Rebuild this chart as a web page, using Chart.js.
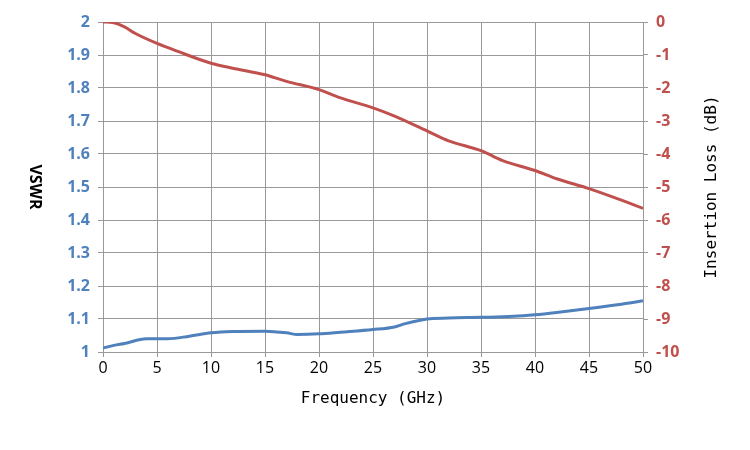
<!DOCTYPE html><html><head><script src="https://cdn.jsdelivr.net/npm/chart.js@4"></script>
<style>body{margin:0;background:#fff}#w{width:750px;height:450px}</style></head><body><div id="w"><canvas id="c"></canvas></div>
<script>
const vswrX=[0,1,2,4,6,8,10,12,15,17,18,20,22,25,27,28,30,32,35,38,40,42,45,48,50];
const vswrY=[1.012,1.02,1.026,1.04,1.04,1.048,1.058,1.062,1.063,1.058,1.053,1.055,1.06,1.068,1.076,1.086,1.1,1.103,1.105,1.108,1.113,1.12,1.132,1.145,1.155];
const ilX=[0,1,2,3,5,7,10,12,15,17,20,22,25,27,30,32,35,37,40,42,45,48,50];
const ilY=[0,-0.02,-0.15,-0.35,-0.65,-0.9,-1.25,-1.4,-1.6,-1.8,-2.05,-2.3,-2.6,-2.85,-3.3,-3.6,-3.9,-4.2,-4.5,-4.75,-5.05,-5.4,-5.65];
const xTicks=[0,5,10,15,20,25,30,35,40,45,50];
const blue='#4F81BD',red='#C0504D';
const vt={id:'vt',afterDraw(ch){const c=ch.ctx;const y=ch.scales.y;const m=(y.top+y.bottom)/2;c.save();c.translate(35,m);c.rotate(Math.PI/2);c.font='bold 16px "Open Sans"';c.fillStyle='#000';c.textAlign='center';c.textBaseline='middle';c.fillText('VSWR',0,0);c.restore();
c.save();c.translate(712,m);c.rotate(-Math.PI/2);c.font='16px "DejaVu Sans Mono"';c.fillStyle='#000';c.textAlign='center';c.textBaseline='middle';c.fillText('Insertion Loss (dB)',0,0);c.restore();}};
new Chart(document.getElementById('c'),{type:'scatter',data:{datasets:[
{data:vswrX.map((x,i)=>({x,y:vswrY[i]})),showLine:true,borderColor:blue,borderWidth:3,pointRadius:0,cubicInterpolationMode:'monotone',yAxisID:'y'},
{data:ilX.map((x,i)=>({x,y:ilY[i]})),showLine:true,borderColor:red,borderWidth:3,pointRadius:0,cubicInterpolationMode:'monotone',yAxisID:'y2'}]},
plugins:[vt],
options:{animation:false,responsive:true,maintainAspectRatio:false,layout:{padding:{top:22,bottom:0,left:0,right:0}},
plugins:{legend:{display:false},tooltip:{enabled:false}},
scales:{
x:{type:'linear',min:0,max:50,afterBuildTicks(s){s.ticks=xTicks.map(v=>({value:v}));},afterFit(s){s.height=98;},
 grid:{color:'#999',tickLength:5},border:{color:'#999'},
 ticks:{color:'#000',font:{size:16,family:'"Open Sans"'},maxRotation:0,padding:2},
 title:{display:true,text:'Frequency (GHz)',color:'#000',font:{size:16,family:'"DejaVu Sans Mono"'},padding:{top:4,bottom:42}}},
y:{position:'left',min:1,max:2,afterFit(s){s.width=103;},ticks:{stepSize:0.1,color:blue,font:{size:16,weight:'bold',family:'"Open Sans"'},padding:8,callback:v=>Math.round(v*10)/10},
 grid:{color:'#999',tickLength:5},border:{color:'#999'}},
y2:{position:'right',min:-10,max:0,afterFit(s){s.width=107;},ticks:{stepSize:1,color:red,font:{size:16,weight:'bold',family:'"Open Sans"'},padding:8},
 grid:{drawOnChartArea:false,tickLength:5,color:'#999'},border:{color:'#999'}}
}}});
</script></body></html>
